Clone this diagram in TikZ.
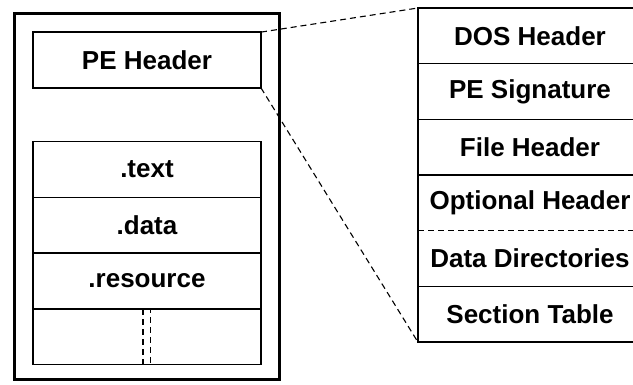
\documentclass[tikz,border=0pt]{standalone}
\usepackage{fontspec}
\setmainfont{Liberation Sans}
\usepackage{tikz}
\usetikzlibrary{positioning,calc}
\tikzset{
  cell/.style={rectangle, draw=black, line width=0.7pt, outer sep=0pt, fill=white,
               align=center, font=\fontsize{13}{15}\selectfont\bfseries,
               minimum width=114pt, minimum height=27.9pt, inner sep=0pt},
  field/.style={rectangle, outer sep=0pt, inner sep=0pt, align=center,
                font=\fontsize{13}{15}\selectfont\bfseries,
                minimum width=112pt, minimum height=27.85pt},
  link/.style={dashed, dash pattern=on 3pt off 2pt, line width=0.55pt},
}

\begin{document}
\begin{tikzpicture}[x=0.5pt, y=-0.5pt, node distance=0pt]
    \useasboundingbox (0,0) rectangle (633,385);
    \clip (0,0) rectangle (633,385);
    % the image file and its parts
    \node[draw, line width=1.5pt, minimum width=132.5pt, minimum height=183pt] (file) at (146.5,197) {};
    \node[cell] (pehdr) at (147,60) {PE Header};
    \node[cell] (text) at (147,169.5) {.text};
    \node[cell, below=of text] (data) {.data};
    \node[cell, below=of data] (rsrc) {.resource};
    \node[cell, below=of rsrc] (gap) {};
    \draw[link, line width=0.6pt] ($(gap.north)+(-4,0)$) -- ($(gap.south)+(-4,0)$);
    \draw[link, line width=0.6pt, dash phase=1pt] ($(gap.north)+(3.5,0)$) -- ($(gap.south)+(3.5,0)$);
    % header layout on the right
    \node[field] (dos) at (530,35.85) {DOS Header};
    \node[field, below=of dos] (sig) {PE Signature};
    \node[field, below=of sig] (fhdr) {File Header};
    \node[field, below=of fhdr] (opt) {Optional Header};
    \node[field, below=of opt] (dirs) {Data Directories};
    \node[field, below=of dirs] (sect) {Section Table};
    \draw[line width=0.7pt] (dos.north west) rectangle (sect.south east);
    \draw[line width=0.7pt] (dos.south west) -- (dos.south east)
      (sig.south west) -- (sig.south east)
      (fhdr.south west) -- (fhdr.south east)
      (dirs.south west) -- (dirs.south east);
    \draw[link] (opt.south west) -- (opt.south east);
    % zoom lines
    \draw[link] (pehdr.north east) -- (dos.north west);
    \draw[link] (pehdr.south east) -- (sect.south west);
  \end{tikzpicture}
\end{document}
